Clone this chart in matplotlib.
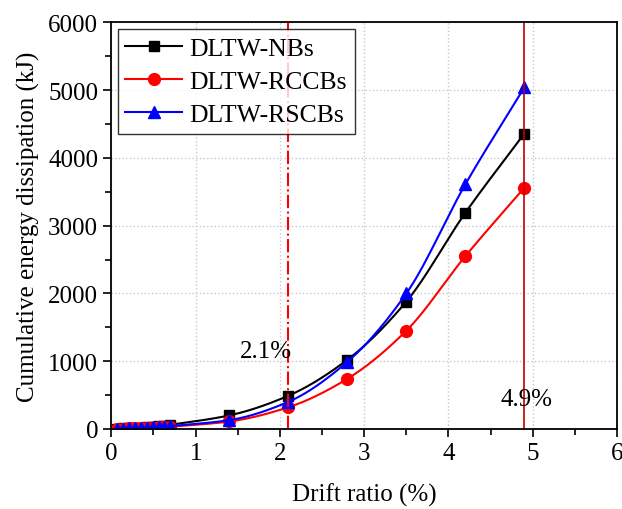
import numpy as np
import matplotlib.pyplot as plt

plt.rcParams['font.family'] = ['Liberation Serif', 'DejaVu Serif']
plt.rcParams['mathtext.fontset'] = 'stix'

# Data (drift ratio %, cumulative energy kJ)
drift = [0.07, 0.14, 0.21, 0.28, 0.35, 0.42, 0.49, 0.56, 0.63, 0.7,
         1.4, 2.1, 2.8, 3.5, 4.2, 4.9]
nbs = [5, 8, 11, 15, 19, 24, 30, 38, 50, 62,
       200, 490, 1020, 1880, 3190, 4360]
rccbs = [3, 5, 7, 9, 12, 15, 18, 22, 27, 33,
         110, 320, 740, 1450, 2550, 3560]
rscbs = [4, 6, 9, 12, 15, 19, 23, 28, 34, 42,
         130, 400, 990, 2000, 3610, 5040]
labels = ['DLTW-NBs', 'DLTW-RCCBs', 'DLTW-RSCBs']


def pchip(x, y, xs):
    # monotone cubic curve through the points, for drawing only
    x = np.asarray(x, float)
    y = np.asarray(y, float)
    h = np.diff(x)
    d = np.diff(y) / h
    m = np.zeros_like(y)
    for k in range(1, len(x) - 1):
        if d[k - 1] * d[k] > 0:
            w1 = 2 * h[k] + h[k - 1]
            w2 = h[k] + 2 * h[k - 1]
            m[k] = (w1 + w2) / (w1 / d[k - 1] + w2 / d[k])
    m[0] = d[0]
    m[-1] = d[-1]
    idx = np.clip(np.searchsorted(x, xs) - 1, 0, len(x) - 2)
    t = (xs - x[idx]) / h[idx]
    h00 = 2 * t**3 - 3 * t**2 + 1
    h10 = t**3 - 2 * t**2 + t
    h01 = -2 * t**3 + 3 * t**2
    h11 = t**3 - t**2
    return (h00 * y[idx] + h10 * h[idx] * m[idx]
            + h01 * y[idx + 1] + h11 * h[idx] * m[idx + 1])


fig = plt.figure(figsize=(6.22, 5.1), dpi=100)
ax = fig.add_axes([0.179, 0.157, 0.813, 0.797])

xs = np.linspace(drift[0], drift[-1], 400)
styles = [('black', 's', 7), ('red', 'o', 8.5), ('blue', '^', 9)]
for vals, lab, (c, mk, ms) in zip([nbs, rccbs, rscbs], labels, styles):
    ax.plot(xs, pchip(drift, vals, xs), color=c, lw=1.5)
    ax.plot(drift, vals, ls='none', marker=mk, color=c, ms=ms)
    ax.plot([], [], color=c, lw=1.5, marker=mk, ms=ms, label=lab)

ax.axvline(2.1, color='red', ls='-.', lw=1.5)
ax.axvline(4.9, color='#c00000', ls='-', lw=1.2)
ax.text(1.84, 1150, '2.1%', fontsize=18, ha='center', va='center')
ax.text(4.92, 440, '4.9%', fontsize=18, ha='center', va='center')

ax.set_xlim(0, 6)
ax.set_ylim(0, 6000)
ax.set_xticks(range(0, 7))
ax.set_yticks(range(0, 6001, 1000))
ax.set_xticks(np.arange(0.5, 6, 1), minor=True)
ax.set_yticks(range(500, 6000, 1000), minor=True)
ax.tick_params(which='major', direction='out', length=6, width=1.2, labelsize=18)
ax.tick_params(which='minor', direction='out', length=4, width=1.2)
ax.grid(True, which='major', ls=':', color='#c8c8c8', lw=1)
for s in ax.spines.values():
    s.set_linewidth(1.3)

ax.set_xlabel('Drift ratio (%)', fontsize=18, labelpad=13)
ax.set_ylabel('Cumulative energy dissipation (kJ)', fontsize=18, labelpad=6)

leg = ax.legend(loc='upper left', fontsize=18.5, frameon=True, fancybox=False,
                edgecolor='black', handlelength=2.2, borderpad=0.3,
                labelspacing=0.4, handletextpad=0.3, borderaxespad=0.25)
leg.get_frame().set_linewidth(1.0)

fig.savefig('out.png', dpi=100)
